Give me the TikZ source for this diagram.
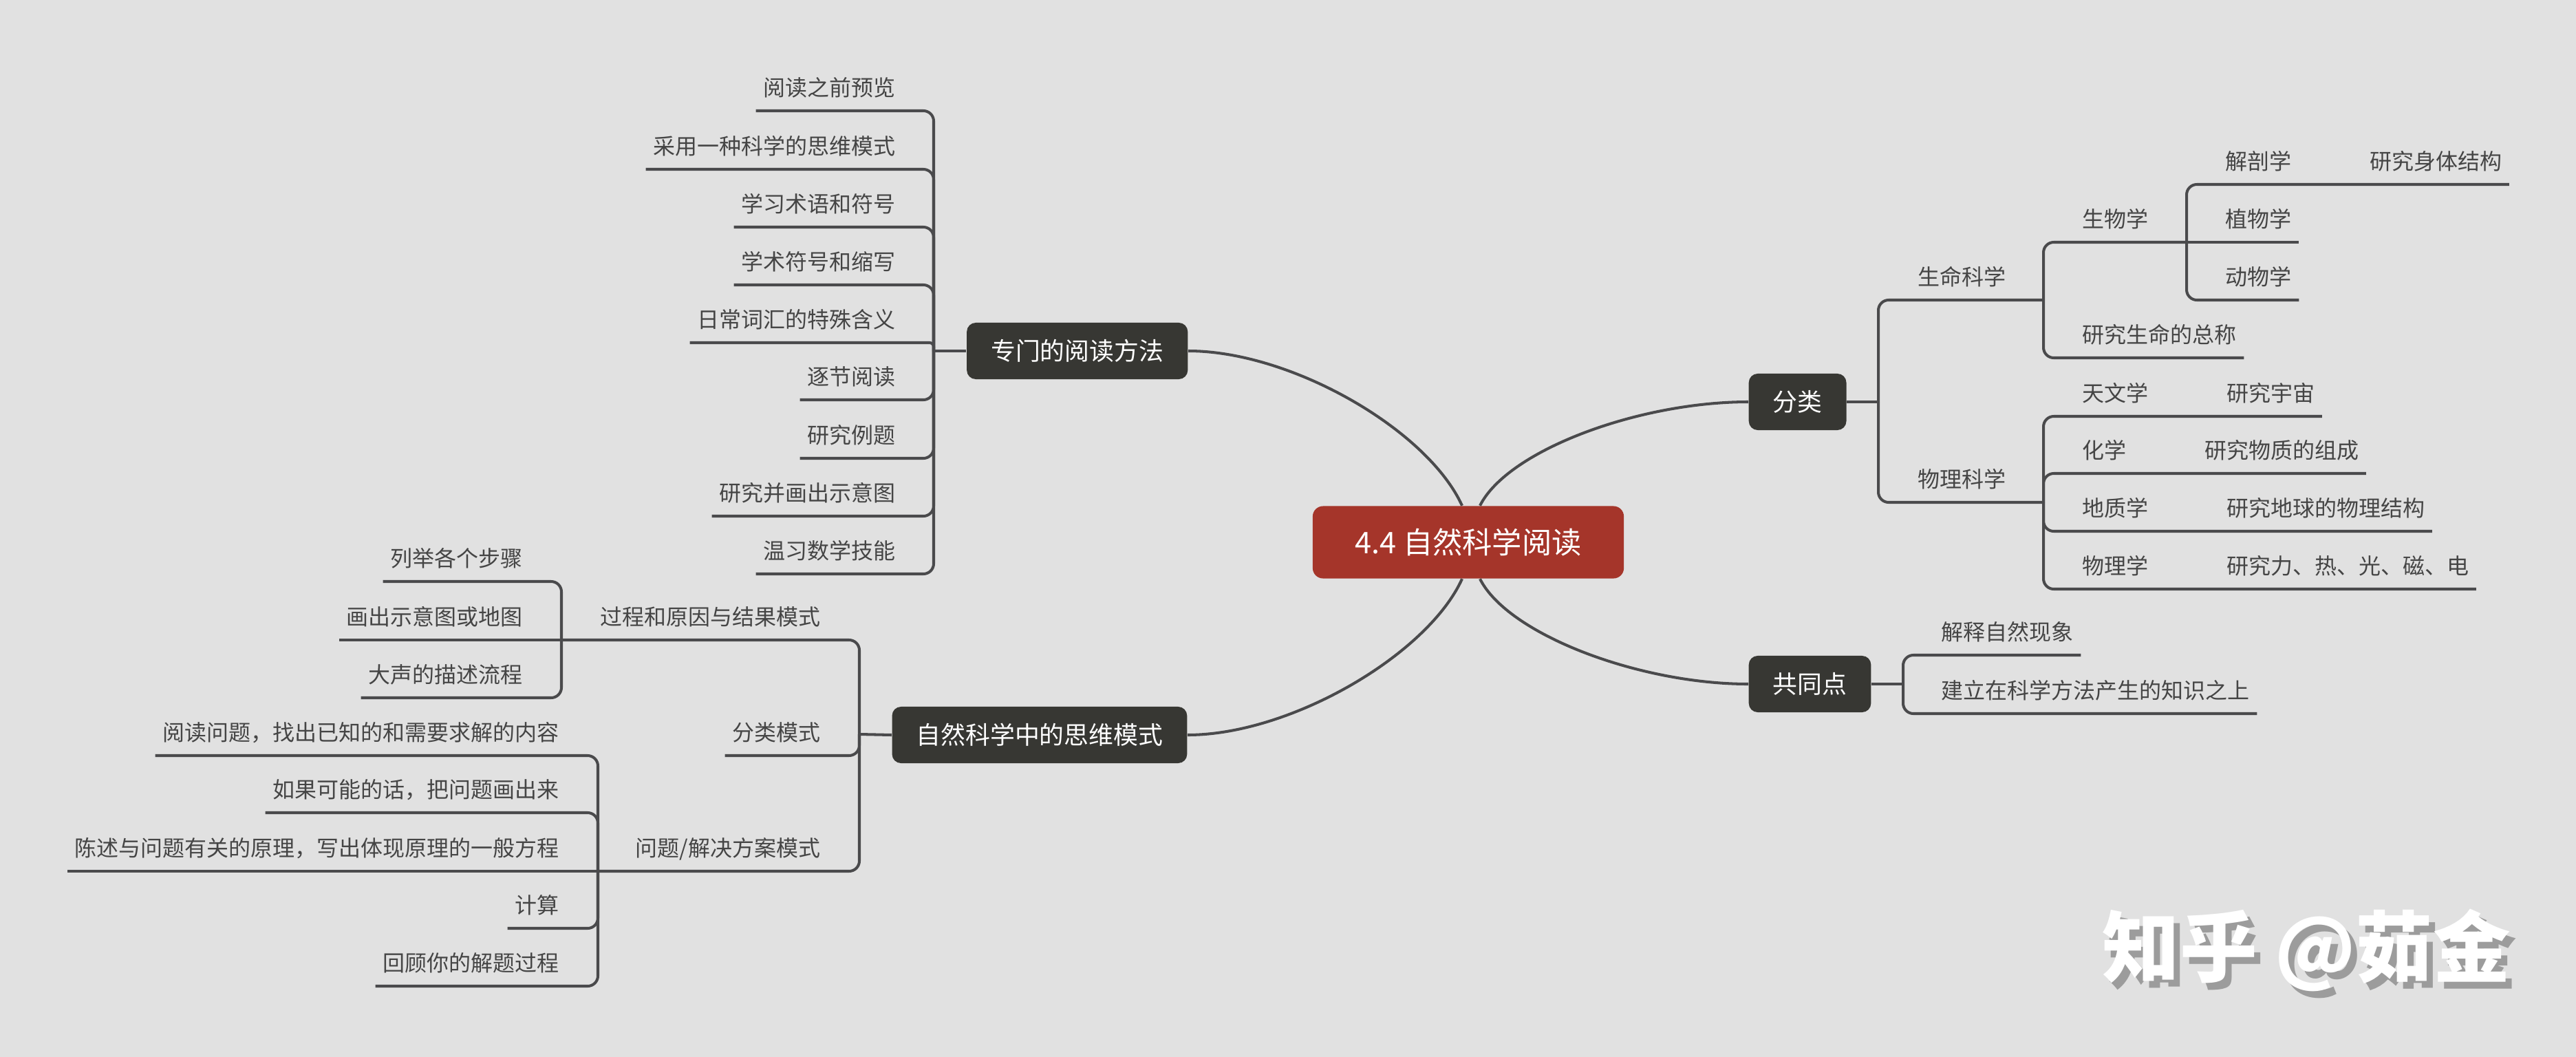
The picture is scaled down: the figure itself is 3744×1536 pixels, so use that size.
\documentclass[tikz,border=0pt]{standalone}
\usepackage{fontspec}
\setmainfont{Noto Sans CJK SC}
\usepackage{xcolor}
\usetikzlibrary{positioning}

\definecolor{paper}{HTML}{E1E1E1}
\definecolor{ink}{HTML}{454545}
\definecolor{wire}{HTML}{4A4A4C}
\definecolor{boxgray}{HTML}{373733}
\definecolor{rootred}{HTML}{A5352A}
\definecolor{shade}{HTML}{9C9C9C}

\begin{document}
\begin{tikzpicture}[
    x=0.01cm, y=-0.01cm,
    link/.style={draw=wire, line width=1.15pt, rounded corners=0.15cm},
    rootbox/.style={rectangle, rounded corners=0.15cm, fill=rootred, text=white, minimum width=4.52cm, minimum height=1.05cm, font=\fontsize{12.3}{14}\selectfont},
    topic/.style={rectangle, rounded corners=0.13cm, fill=boxgray, text=white, inner xsep=0.35cm, minimum height=0.82cm, font=\fontsize{10.2}{12}\selectfont},
    leaf/.style={inner xsep=0.1cm, inner ysep=0pt, text height=0.3cm, text depth=0.21cm, text=ink, font=\fontsize{9.1}{11}\selectfont},
    leafl/.style={leaf, anchor=south east},
    leafr/.style={leaf, anchor=south west},
    wmtext/.style={font=\fontsize{32}{36}\selectfont\bfseries}
  ]
  \fill[paper] (0,0) rectangle (3744,1536);

  \node (root) [rootbox] at (2134,788) {4.4 自然科学阅读};
  \node (method) [topic, anchor=east] at (1727,510) {专门的阅读方法};
  \node (think) [topic, anchor=east] at (1726,1068) {自然科学中的思维模式};
  \node (sort) [topic, anchor=west] at (2541,584) {分类};
  \node (shared) [topic, anchor=west] at (2541,994) {共同点};

  \draw[link] ([xshift=-0.09cm]root.north) .. controls +(-50,-110) and +(150,0) .. (method.east);
  \draw[link] ([xshift=-0.09cm]root.south) .. controls +(-50,110) and +(150,0) .. (think.east);
  \draw[link] ([xshift=0.17cm]root.north) .. controls +(40,-80) and +(-160,0) .. (sort.west);
  \draw[link] ([xshift=0.17cm]root.south) .. controls +(40,80) and +(-160,0) .. (shared.west);

  \coordinate (mt) at (1357,510);
  \draw[link] (method.west) -- (mt);
  \node (m1) [leafl] at (1312,161) {阅读之前预览};
  \node (m2) [leafl] at (1312,246) {采用一种科学的思维模式};
  \node (m3) [leafl] at (1312,330) {学习术语和符号};
  \node (m4) [leafl] at (1312,414) {学术符号和缩写};
  \node (m5) [leafl] at (1312,498) {日常词汇的特殊含义};
  \node (m6) [leafl] at (1312,581) {逐节阅读};
  \node (m7) [leafl] at (1312,666) {研究例题};
  \node (m8) [leafl] at (1312,750) {研究并画出示意图};
  \node (m9) [leafl] at (1312,834) {温习数学技能};
  \draw[link] (mt) |- (m1.south west);
  \draw[link] (mt) |- (m2.south west);
  \draw[link] (mt) |- (m3.south west);
  \draw[link] (mt) |- (m4.south west);
  \draw[link, rounded corners=0.06cm] (mt) |- (m5.south west);
  \draw[link] (mt) |- (m6.south west);
  \draw[link] (mt) |- (m7.south west);
  \draw[link] (mt) |- (m8.south west);
  \draw[link] (mt) |- (m9.south west);

  \coordinate (nt) at (1249,1067);
  \draw[link] (think.west) -- (nt);
  \node (p1) [leafl] at (1203,930) {过程和原因与结果模式};
  \node (p2) [leafl] at (1203,1098) {分类模式};
  \node (p3) [leafl] at (1203,1266) {问题/解决方案模式};
  \coordinate (pt1) at (816,930);
  \coordinate (pt3) at (869,1266);
  \draw[link] (nt) |- (p1.south west) -- (pt1);
  \draw[link] (nt) |- (p2.south west);
  \draw[link] (nt) |- (p3.south west) -- (pt3);

  \node (s1) [leafl] at (770,845) {列举各个步骤};
  \node (s2) [leafl] at (770,930) {画出示意图或地图};
  \node (s3) [leafl] at (770,1014) {大声的描述流程};
  \draw[link] (pt1) |- (s1.south west);
  \draw[link] (pt1) -- (s2.south west);
  \draw[link] (pt1) |- (s3.south west);

  \node (q1) [leafl] at (823,1098) {阅读问题，找出已知的和需要求解的内容};
  \node (q2) [leafl] at (823,1181) {如果可能的话，把问题画出来};
  \node (q3) [leafl] at (823,1266) {陈述与问题有关的原理，写出体现原理的一般方程};
  \node (q4) [leafl] at (823,1349) {计算};
  \node (q5) [leafl] at (823,1433) {回顾你的解题过程};
  \draw[link] (pt3) |- (q1.south west);
  \draw[link] (pt3) |- (q2.south west);
  \draw[link] (pt3) -- (q3.south west);
  \draw[link] (pt3) |- (q4.south west);
  \draw[link] (pt3) |- (q5.south west);

  \coordinate (ct) at (2730,584);
  \draw[link] (sort.east) -- (ct);
  \node (life) [leafr] at (2777,436) {生命科学};
  \node (phys) [leafr] at (2777,730) {物理科学};
  \coordinate (lt) at (2970,436);
  \coordinate (ft) at (2970,730);
  \draw[link] (ct) |- (life.south east) -- (lt);
  \draw[link] (ct) |- (phys.south east) -- (ft);

  \node (bio) [leafr] at (3016,352) {生物学};
  \node (lifedef) [leafr] at (3016,520) {研究生命的总称};
  \coordinate (bt) at (3178,352);
  \draw[link] (lt) |- (bio.south east) -- (bt);
  \draw[link] (lt) |- (lifedef.south east);

  \node (anat) [leafr] at (3224,268) {解剖学};
  \node (anatx) [leaf, right=0.92cm of anat] {研究身体结构};
  \node (bot) [leafr] at (3224,352) {植物学};
  \node (zoo) [leafr] at (3224,436) {动物学};
  \draw[link] (bt) |- (anat.south east) -- (anatx.south east);
  \draw[link] (bt) -- (bot.south east);
  \draw[link] (bt) |- (zoo.south east);

  \node (astro) [leafr] at (3016,605) {天文学};
  \node (astrox) [leaf, right=0.92cm of astro] {研究宇宙};
  \node (chem) [leafr] at (3016,688) {化学};
  \node (chemx) [leaf, right=0.92cm of chem] {研究物质的组成};
  \node (geo) [leafr] at (3016,772) {地质学};
  \node (geox) [leaf, right=0.92cm of geo] {研究地球的物理结构};
  \node (phy) [leafr] at (3016,856) {物理学};
  \node (phyx) [leaf, right=0.92cm of phy] {研究力、热、光、磁、电};
  \draw[link] (ft) |- (astro.south east) -- (astrox.south east);
  \draw[link] (ft) |- (chem.south east) -- (chemx.south east);
  \draw[link] (ft) |- (geo.south east) -- (geox.south east);
  \draw[link] (ft) |- (phy.south east) -- (phyx.south east);

  \coordinate (st) at (2766,994);
  \draw[link] (shared.east) -- (st);
  \node (c1) [leafr] at (2811,952) {解释自然现象};
  \node (c2) [leafr] at (2811,1037) {建立在科学方法产生的知识之上};
  \draw[link] (st) |- (c1.south east);
  \draw[link] (st) |- (c2.south east);

  \node (wmback) [wmtext, text=shade] at (3361,1391) {知乎 @茹金};
  \node (wm) [wmtext, text=white] at (3352,1381) {知乎 @茹金};
\end{tikzpicture}
\end{document}
